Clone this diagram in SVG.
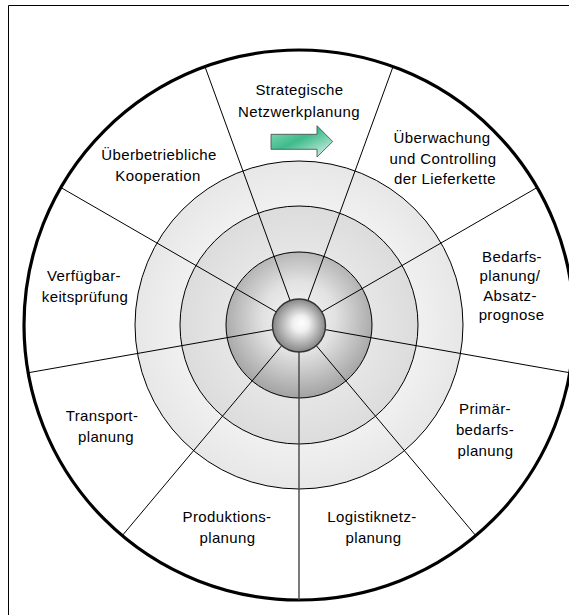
<svg xmlns="http://www.w3.org/2000/svg" width="569" height="615" viewBox="0 0 569 615">
<defs>
<radialGradient id="gOuter" cx="0.5" cy="0.5" r="0.5">
<stop offset="0.7" stop-color="#f1f1f1"/>
<stop offset="1" stop-color="#e7e7e7"/>
</radialGradient>
<radialGradient id="gMid" cx="0.5" cy="0.5" r="0.5">
<stop offset="0.6" stop-color="#e6e6e6"/>
<stop offset="1" stop-color="#dcdcdc"/>
</radialGradient>
<radialGradient id="gInner" cx="0.5" cy="0.45" r="0.55">
<stop offset="0" stop-color="#f6f6f6"/>
<stop offset="0.45" stop-color="#e2e2e2"/>
<stop offset="1" stop-color="#a2a2a2"/>
</radialGradient>
<radialGradient id="gBall" cx="0.5" cy="0.5" r="0.5" fx="0.55" fy="0.45">
<stop offset="0" stop-color="#ffffff"/>
<stop offset="0.3" stop-color="#f0f0f0"/>
<stop offset="1" stop-color="#858585"/>
</radialGradient>
<linearGradient id="gArrow" x1="0" y1="0" x2="1" y2="1">
<stop offset="0" stop-color="#8fdcbc"/>
<stop offset="0.45" stop-color="#3fbb8c"/>
<stop offset="1" stop-color="#e4f7ef"/>
</linearGradient>
</defs>
<style>
.ring{stroke:#000;stroke-width:1}
.spoke{stroke:#000;stroke-width:1;fill:none}
.lbl{font-family:"Liberation Sans",Arial,sans-serif;font-size:15px;letter-spacing:0.4px;fill:#000;text-anchor:middle}
</style>
<rect x="0" y="0" width="569" height="615" fill="#fff"/>
<g id="frame" fill="none" stroke="#000" stroke-width="1">
<path d="M8.5 615 V5.5 H569"/>
</g>
<g id="wheel">
<circle cx="299" cy="325" r="275" fill="#fff" stroke="#000" stroke-width="3.2"/>
<circle class="ring" cx="299" cy="325" r="164" fill="url(#gOuter)"/>
<circle class="ring" cx="299" cy="325" r="119" fill="url(#gMid)"/>
<circle class="ring" cx="299" cy="325" r="73" fill="url(#gInner)"/>
</g>
<g id="connectors">
<line class="spoke" x1="316.03" y1="345.3" x2="475.77" y2="535.66"/>
<line class="spoke" x1="325.1" y1="329.6" x2="569.83" y2="372.75"/>
<line class="spoke" x1="321.95" y1="311.75" x2="537.15" y2="187.5"/>
<line class="spoke" x1="308.06" y1="300.1" x2="393.06" y2="66.58"/>
<line class="spoke" x1="289.94" y1="300.1" x2="204.94" y2="66.58"/>
<line class="spoke" x1="276.05" y1="311.75" x2="60.85" y2="187.5"/>
<line class="spoke" x1="272.9" y1="329.6" x2="28.17" y2="372.75"/>
<line class="spoke" x1="281.97" y1="345.3" x2="122.23" y2="535.66"/>
<line class="spoke" x1="299" y1="351.5" x2="299" y2="600" style="stroke:#444;stroke-width:1.4"/>
</g>
<g id="hub">
<circle cx="299" cy="325.5" r="26.5" fill="url(#gBall)" stroke="#333" stroke-width="1.4"/>
</g>
<g id="arrow">
<path d="M271 134.3 H317 V125.7 L332.7 141.5 L317 157 V149.3 H271 Z" fill="url(#gArrow)" stroke="#444" stroke-width="0.8"/>
</g>
<g id="n-strategische">
<text class="lbl" x="299.5" y="95">Strategische</text>
<text class="lbl" x="299" y="117">Netzwerkplanung</text>
</g>
<g id="n-ueberwachung">
<text class="lbl" x="442" y="143">Überwachung</text>
<text class="lbl" x="443" y="163.5">und Controlling</text>
<text class="lbl" x="445" y="184">der Lieferkette</text>
</g>
<g id="n-bedarfsplanung">
<text class="lbl" x="512" y="261.5">Bedarfs-</text>
<text class="lbl" x="510" y="281">planung/</text>
<text class="lbl" x="510" y="300.5">Absatz-</text>
<text class="lbl" x="511.5" y="320">prognose</text>
</g>
<g id="n-primaerbedarf">
<text class="lbl" x="485" y="413.5">Primär-</text>
<text class="lbl" x="485" y="435">bedarfs-</text>
<text class="lbl" x="485.5" y="455.5">planung</text>
</g>
<g id="n-logistiknetz">
<text class="lbl" x="372" y="521.5">Logistiknetz-</text>
<text class="lbl" x="373.5" y="543">planung</text>
</g>
<g id="n-produktion">
<text class="lbl" x="227" y="521.5">Produktions-</text>
<text class="lbl" x="227.5" y="543">planung</text>
</g>
<g id="n-transport">
<text class="lbl" x="102" y="420.5">Transport-</text>
<text class="lbl" x="106" y="441.5">planung</text>
</g>
<g id="n-verfuegbarkeit">
<text class="lbl" x="84" y="281">Verfügbar-</text>
<text class="lbl" x="85" y="302">keitsprüfung</text>
</g>
<g id="n-ueberbetrieblich">
<text class="lbl" x="159" y="160">Überbetriebliche</text>
<text class="lbl" x="158" y="181">Kooperation</text>
</g>
</svg>
